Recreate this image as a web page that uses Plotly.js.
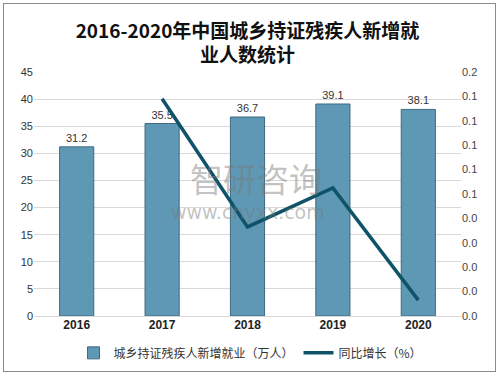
<!DOCTYPE html>
<html>
<head>
<meta charset="utf-8">
<script src="https://cdn.plot.ly/plotly-3.0.1.min.js"></script>
<style>
  html, body { margin: 0; padding: 0; background: #fff; }
  #wrap { position: relative; width: 501px; height: 377px; }
  #chart { width: 501px; height: 377px; }
  #frame { position: absolute; left: 3px; top: 3px; width: 491px; height: 367px;
           border: 1.5px solid #8a8a8a; pointer-events: none; }
</style>
</head>
<body>
<div id="wrap"><div id="chart"></div><div id="frame"></div></div>
<script>
const years = ['2016', '2017', '2018', '2019', '2020'];
const employed = [31.2, 35.5, 36.7, 39.1, 38.1];
const growthYears = ['2017', '2018', '2019', '2020'];
const growth = [0.178, 0.073, 0.105, 0.013];
const leftTicks = [0, 5, 10, 15, 20, 25, 30, 35, 40, 45];
const rightTickVals = [0, 0.02, 0.04, 0.06, 0.08, 0.10, 0.12, 0.14, 0.16, 0.18, 0.20];
const rightTickText = ['0.0', '0.0', '0.0', '0.0', '0.0', '0.1', '0.1', '0.1', '0.1', '0.1', '0.2'];
const barName = '城乡持证残疾人新增就业（万人）';
const lineName = '同比增长（%）';

const traces = [
  {
    type: 'bar', x: years, y: employed, name: barName,
    marker: { color: '#5f98b5', line: { color: '#3f6a80', width: 1 } },
    text: employed.map(v => v.toFixed(1)), textposition: 'outside',
    textfont: { size: 11, color: '#333', family: 'Liberation Sans, Arial, sans-serif' },
    cliponaxis: false, hoverinfo: 'skip'
  },
  {
    type: 'scatter', mode: 'lines', x: growthYears, y: growth, name: lineName,
    yaxis: 'y2', line: { color: '#0f5369', width: 3.5 }, hoverinfo: 'skip'
  }
];

const layout = {
  width: 501, height: 377,
  margin: { l: 34, r: 40, t: 72, b: 61 },
  paper_bgcolor: '#fff', plot_bgcolor: '#fff',
  showlegend: true,
  bargap: 0.6,
  title: {
    text: '2016-2020年中国城乡持证残疾人新增就<br>业人数统计',
    font: { family: 'Noto Sans CJK SC, sans-serif', size: 19, color: '#111', weight: 'bold' },
    x: 0.5, xanchor: 'center', xref: 'paper',
    yref: 'container', y: 0.9, yanchor: 'middle'
  },
  font: { family: 'Liberation Sans, Arial, sans-serif', color: '#333' },
  xaxis: {
    type: 'category', showgrid: false, zeroline: false, showline: false,
    ticks: '', tickfont: { size: 12, color: '#222', weight: 'bold' }
  },
  yaxis: {
    range: [0, 45], tickvals: leftTicks, showgrid: true, gridcolor: '#d9d9d9', gridwidth: 1,
    zeroline: true, zerolinecolor: '#d9d9d9', showline: false, ticks: '',
    tickfont: { size: 11, color: '#333' }
  },
  yaxis2: {
    overlaying: 'y', side: 'right', range: [0, 0.2],
    tickvals: rightTickVals, ticktext: rightTickText,
    showgrid: false, zeroline: false, showline: false, ticks: '',
    tickfont: { size: 11, color: '#444' }
  },
  legend: {
    orientation: 'h', x: 0.5, xanchor: 'center', xref: 'container',
    yref: 'container', y: 0.064, yanchor: 'middle',
    font: { size: 12, color: '#333', family: 'Noto Sans CJK SC, sans-serif' },
    tracegroupgap: 0, itemwidth: 30
  },
  annotations: [
    { xref: 'paper', yref: 'paper', x: 0.52, y: 0.565, text: '智研咨询',
      showarrow: false, font: { size: 33, color: 'rgba(120,120,120,0.45)', family: 'Noto Sans CJK SC, sans-serif' } },
    { xref: 'paper', yref: 'paper', x: 0.5, y: 0.425, text: 'www.chyxx.com',
      showarrow: false, font: { size: 19, color: 'rgba(120,120,120,0.45)', family: 'DejaVu Sans, sans-serif' } }
  ]
};

Plotly.newPlot('chart', traces, layout, { displayModeBar: false, staticPlot: true });
</script>
</body>
</html>
